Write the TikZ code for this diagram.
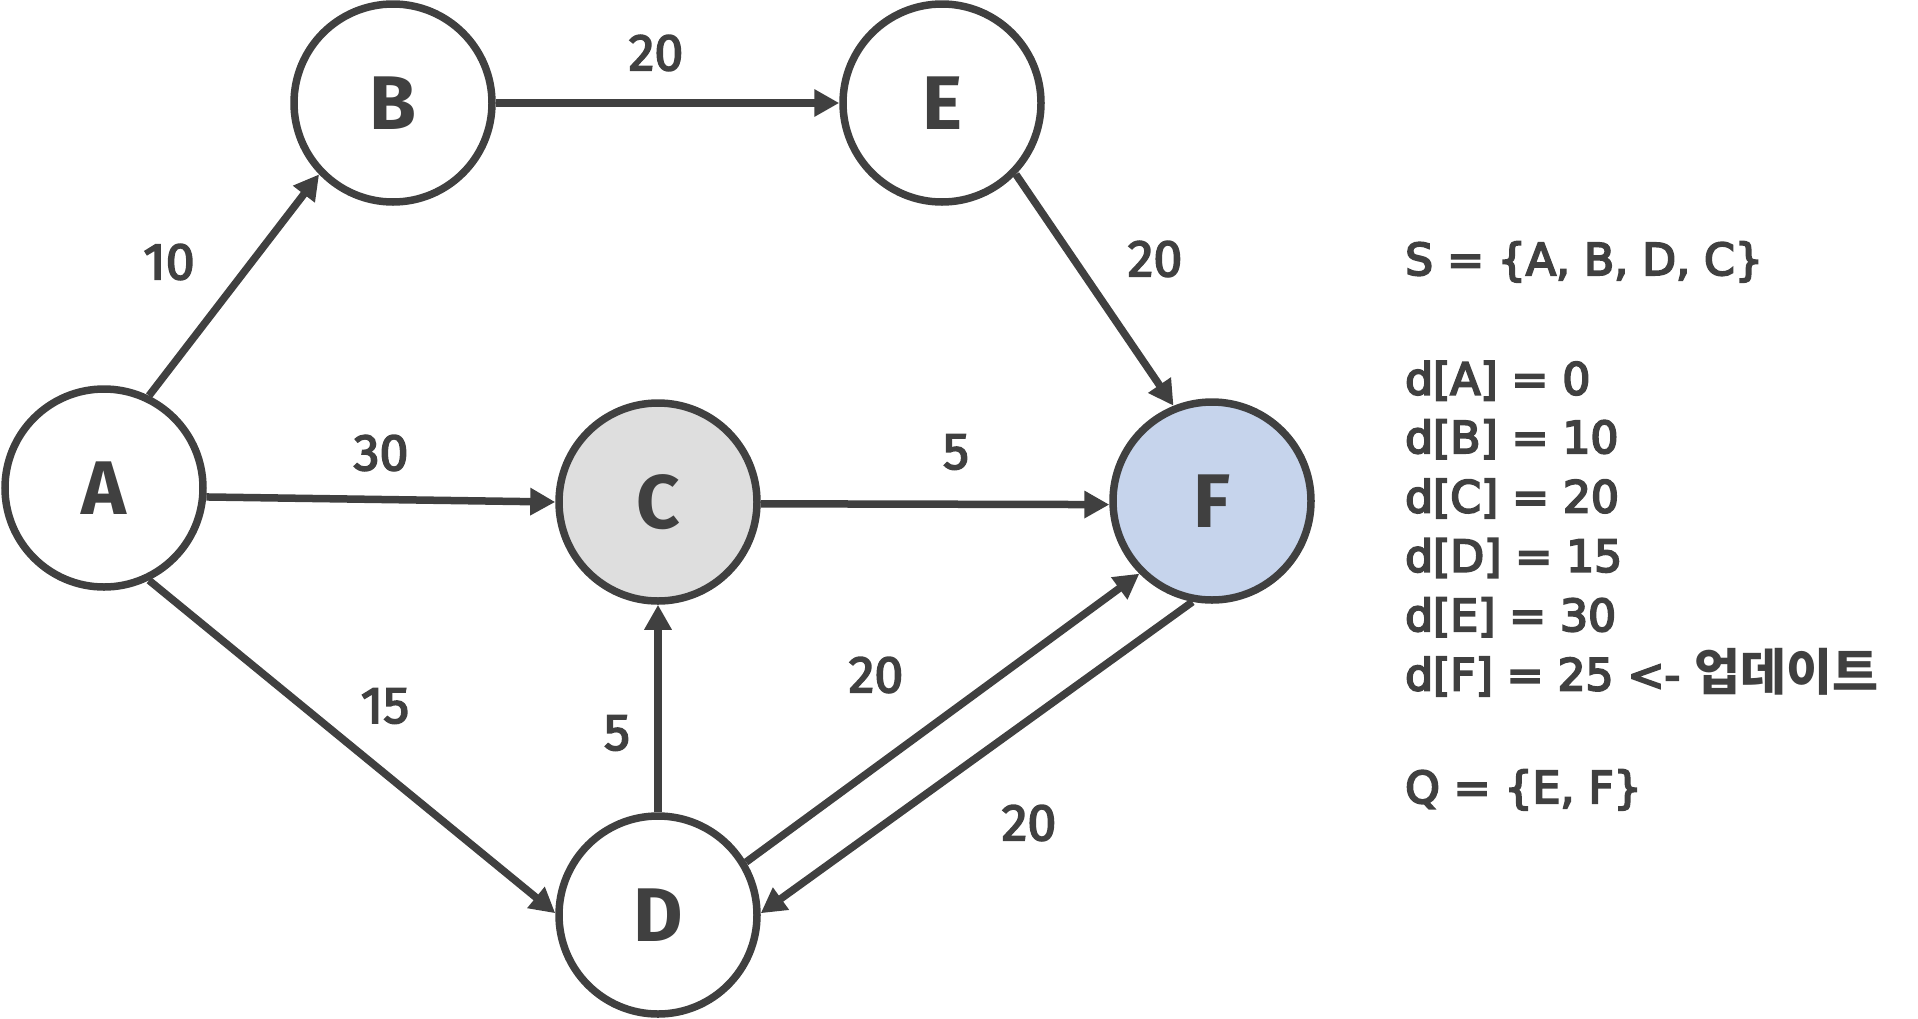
\documentclass[tikz,border=0pt]{standalone}
\usepackage{fontspec}
\usetikzlibrary{arrows.meta}
\setmainfont{DejaVu Sans}
\newfontfamily\lblfont{Fira Sans}
\newfontfamily\numfont{Fira Sans}[FakeBold=3]
\newfontfamily\rfont{DejaVu Sans}[FakeBold=4.5]
\newfontfamily\krfont{Noto Sans CJK KR}
\definecolor{ink}{HTML}{404040}
\definecolor{cfill}{HTML}{DEDEDE}
\definecolor{ffill}{HTML}{C6D4EC}
\begin{document}
\begin{tikzpicture}[x=1pt,y=-1pt,
  vert/.style={circle, draw=ink, line width=7.5pt, minimum size=198pt, inner sep=0pt, fill=white, text=ink, font=\lblfont\bfseries\fontsize{76}{76}\selectfont},
  edge/.style={draw=ink, line width=7.5pt, -{Triangle[length=25pt,width=26pt]}},
  wlabel/.style={text=ink, inner sep=0pt, font=\numfont\fontsize{52}{52}\selectfont},
  info/.style={anchor=base west, text=ink, inner sep=0pt, font=\rfont\fontsize{44}{44}\selectfont}]
\useasboundingbox (0,0) rectangle (1918,1018);
\node[vert] (A) at (104,488) {A};
\node[vert] (B) at (393,103) {B};
\node[vert] (E) at (942,103) {E};
\node[vert, fill=cfill] (C) at (658,502) {C};
\node[vert, fill=ffill] (F) at (1212,501) {F};
\node[vert] (D) at (658,915) {D};

\draw[edge] (A.64) -- (B.224);
\draw[edge] (B.east) -- (E.west);
\draw[edge] (E.-44) -- (F.112);
\draw[edge] (A.-5) -- (C.west);
\draw[edge] (C.-1) -- (F.182);
\draw[edge] (A.-64) -- (D.179);
\draw[edge] (D.north) -- (C.south);
\draw[edge] (D.31) -- (F.225);
\draw[edge] (F.259) -- (D.1);

\node[wlabel] (l1) at (169,262) {10};
\node[wlabel] (l2) at (656,53) {20};
\node[wlabel] (l3) at (1155,259) {20};
\node[wlabel] (l4) at (381,453) {30};
\node[wlabel] (l5) at (956,452) {5};
\node[wlabel] (l6) at (385,706) {15};
\node[wlabel] (l7) at (617,733) {5};
\node[wlabel] (l8) at (876,675) {20};
\node[wlabel] (l9) at (1029,823) {20};

\node[info] (s) at (1405,275) {S = \{A, B, D, C\}};
\node[info] (da) at (1405,394.5) {d[A] = 0};
\node[info] (db) at (1405,453) {d[B] = 10};
\node[info] (dc) at (1405,512.4) {d[C] = 20};
\node[info] (dd) at (1405,571.7) {d[D] = 15};
\node[info] (de) at (1405,631) {d[E] = 30};
\node[info] (df) at (1405,690.3) {d[F] = 25 <- {\krfont\bfseries\fontsize{50}{50}\selectfont 업데이트}};
\node[info] (q) at (1405,803) {Q = \{E, F\}};
\end{tikzpicture}
\end{document}
